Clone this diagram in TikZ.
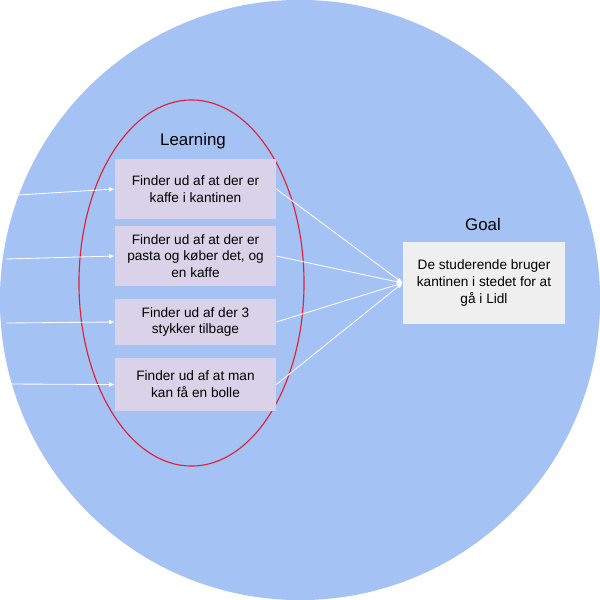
\documentclass[tikz,border=0pt]{standalone}
\usepackage{fontspec}
\setmainfont{Liberation Sans}
\usetikzlibrary{arrows.meta}
\definecolor{bluebg}{HTML}{A4C2F4}
\definecolor{lilac}{HTML}{D9D2E9}
\definecolor{greybox}{HTML}{EFEFEF}
\definecolor{ringred}{RGB}{224,32,48}
\begin{document}
\begin{tikzpicture}
            [x=0.025cm,y=-0.025cm,
            Box/.style={fill=lilac,minimum width=4.025cm,align=center,inner sep=0pt,
                font=\fontsize{9.7}{12}\selectfont},
            Head/.style={font=\fontsize{12}{14}\selectfont},
            Link/.style={draw=white,line width=0.6pt,-{Latex[length=4pt,width=3.5pt]}}]
            \useasboundingbox (0,0) rectangle (600,600);
            \fill[bluebg] (300,300) circle (7.5cm);
            \draw[ringred,line width=0.8pt] (191.5,283) ellipse (2.8125cm and 4.575cm);

            \node[Head] (learning) at (193,141) {Learning};
            \node[Box,minimum height=1.5cm] (b1) at (195.5,189) {Finder ud af at der er\\kaffe i kantinen};
            \node[Box,minimum height=1.5cm] (b2) at (195.5,256) {Finder ud af at der er\\pasta og køber det, og\\en kaffe};
            \node[Box,minimum height=1.15cm] (b3) at (195.5,322) {Finder ud af der 3\\stykker tilbage};
            \node[Box,minimum height=1.3cm] (b4) at (195.5,384.5) {Finder ud af at man\\kan få en bolle};

            \node[Head] (goalhead) at (483,224) {Goal};
            \node[Box,fill=greybox,minimum width=4.05cm,minimum height=2.05cm] (goal) at (484,283)
                {De studerende bruger\\kantinen i stedet for at\\gå i Lidl};

            \coordinate (i1) at (18,195);
            \coordinate (i2) at (6,259);
            \coordinate (i3) at (6,323);
            \coordinate (i4) at (8,384);

            \draw[Link] (i1) -- (b1.west);
            \draw[Link] (i2) -- (b2.west);
            \draw[Link] (i3) -- (b3.west);
            \draw[Link] (i4) -- (b4.west);

            \draw[Link] (b1.east) -- (goal.west);
            \draw[Link] (b2.east) -- (goal.west);
            \draw[Link] (b3.east) -- (goal.west);
            \draw[Link] (b4.east) -- (goal.west);
        \end{tikzpicture}
\end{document}
